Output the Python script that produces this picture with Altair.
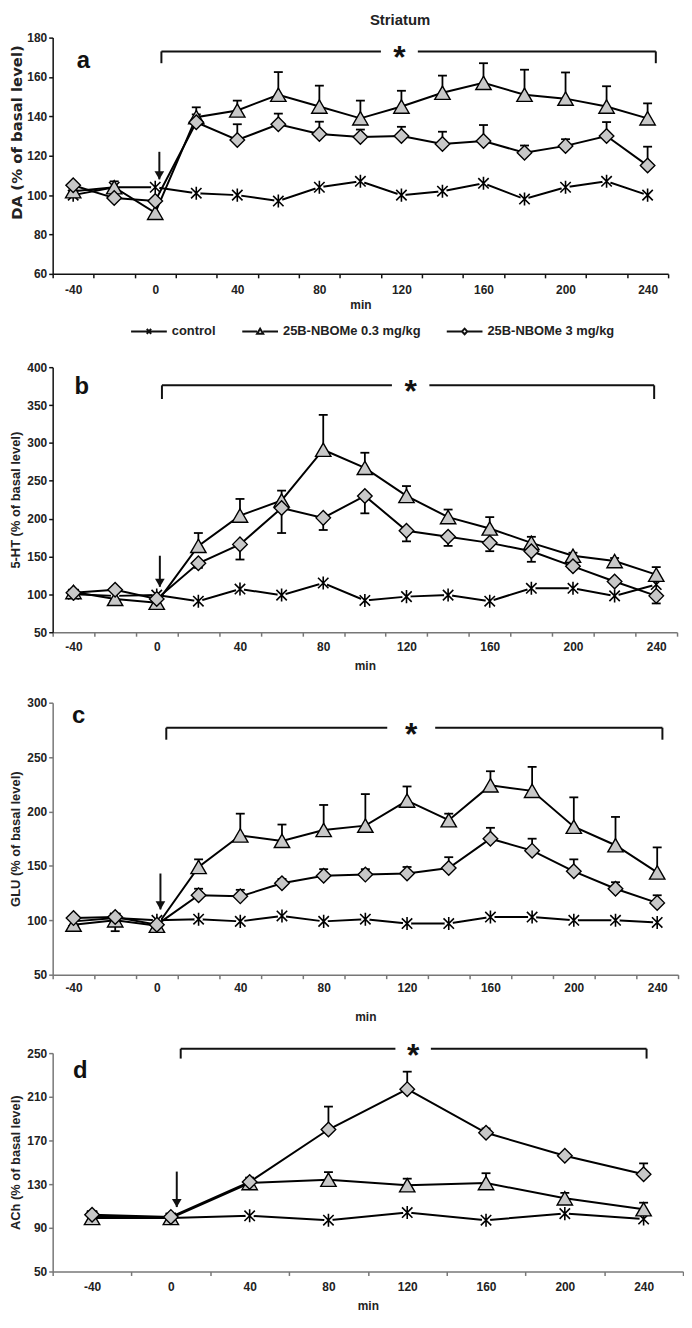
import altair as alt
import pandas as pd

FONT = "Liberation Sans"
GRAY_FILL = "#c8c8c8"

SERIES = ["control", "25B-NBOMe 0.3 mg/kg", "25B-NBOMe 3 mg/kg"]

X15 = [-40, -20, 0, 20, 40, 60, 80, 100, 120, 140, 160, 180, 200, 220, 240]
X8 = [-40, 0, 40, 80, 120, 160, 200, 240]
TICKS15 = [-50, -30, -10, 10, 30, 50, 70, 90, 110, 130, 150, 170, 190, 210, 230, 250]
TICKS8 = [-60, -20, 20, 60, 100, 140, 180, 220, 260]
XLABELS = [-40, 0, 40, 80, 120, 160, 200, 240]

# ---- panel a : DA ----
da_ctrl = [100, 104, 104, 101, 100, 97, 104, 107, 100, 102, 106, 98, 104, 107, 100]
da_tri = [102, 104, 91, 139.6, 143, 151, 145, 139, 145, 152, 157, 151, 149, 145, 139]
da_tri_err = [0, 3, 0, 5, 5, 11.5, 10.6, 9, 8, 8.7, 10, 12.7, 13.3, 10.3, 7.6]
da_dia = [105, 98.5, 97, 137, 128, 136, 131, 129.5, 130, 126, 127.5, 121.5, 125, 130, 115]
da_dia_err = [0, 0, 0, 4, 8, 5.4, 6.3, 3.8, 4.7, 6.2, 8.1, 3.7, 3.4, 7.1, 9.6]

# ---- panel b : 5-HT ----
ht_ctrl = [100, 98, 99, 91, 107, 99, 115, 92, 97, 99, 91, 108, 108, 98, 113]
ht_tri = [103, 94, 89, 164, 204, 224, 291, 267, 230, 202, 187, 168, 151, 144, 126]
ht_tri_err = [0, 0, 0, 17, 22, 13, 46, 20, 13, 10, 15, 8, 4, 4, 10]
ht_dia = [102, 106, 94, 141, 166, 214, 201, 230, 184, 176, 168, 157, 137, 117, 98]
ht_dia_err = [0, 0, 0, -6, -20, -33, -16, -23, -14, -12, -11, -14, -4, 0, -10]

# ---- panel c : GLU ----
glu_ctrl = [99, 102, 100, 101, 99, 104, 99, 101, 97, 97, 103, 103, 100, 100, 98]
glu_tri = [96, 100, 95, 149, 178, 173, 183, 187, 210, 192, 224, 219, 186, 169, 144]
glu_tri_err = [0, -10, 0, 7, 20, 15, 23, 29, 13, 6, 13, 22, 27, 26, 23]
glu_dia = [102, 103, 96, 123, 122, 134, 141, 142, 143, 148, 175, 164, 145, 129, 116]
glu_dia_err = [0, 0, 0, 6, 6, 4, 6, 5, 6, 10, 10, 11, 11, 6, 7]

# ---- panel d : ACh ----
ach_ctrl = [101, 99, 101, 97, 104, 97, 103, 98]
ach_tri = [99, 99, 131, 134, 129, 131, 117, 107]
ach_tri_err = [0, 0, 3, 7, 6, 9, 5, 6]
ach_dia = [102, 100, 132, 180, 217, 177, 156, 139]
ach_dia_err = [3, 0, 4, 21, 16, 4, 2, 10]

STAR_PATH = "M-1,-1L1,1M-1,1L1,-1M0,-1.25L0,1.25"
LEG_PATHS = [
    "M-1,0L1,0M-0.12,-0.14L0.12,0.14M-0.12,0.14L0.12,-0.14",
    "M-1,0L-0.17,0M0.17,0L1,0M0,-0.15L0.17,0.13L-0.17,0.13Z",
    "M-1,0L-0.17,0M0.17,0L1,0M0,-0.16L0.15,0L0,0.16L-0.15,0Z",
]


def make_panel(xs, ctrl, tri, tri_err, dia, dia_err, cfg):
    rows = []
    zeros = [0] * len(xs)
    for s, ys, es in ((SERIES[0], ctrl, zeros), (SERIES[1], tri, tri_err), (SERIES[2], dia, dia_err)):
        for x, y, e in zip(xs, ys, es):
            rows.append({"x": x, "y": y, "top": y + e, "err": e, "series": s})
    df = pd.DataFrame(rows)

    xscale = alt.Scale(domain=cfg["xdom"], nice=False, zero=False)
    yscale = alt.Scale(domain=cfg["ydom"], nice=False, zero=False)
    xaxis = alt.Axis(
        values=cfg["xticks"] + XLABELS,
        labelExpr="datum.value % 40 === 0 ? '' + datum.value : ''",
        tickOpacity={"condition": {"test": "datum.value % 40 === 0", "value": 0}, "value": 1},
        labelOverlap=False, labelFlush=False, grid=False,
        tickSize=4, tickWidth=1.5, domainWidth=1.5,
        domainColor=cfg["xcolor"], tickColor=cfg["xcolor"],
        labelFont=FONT, labelFontSize=12, labelFontWeight="bold", labelColor="#222",
        labelPadding=cfg["lpad"],
        title="min", titleFont=FONT, titleFontSize=12, titleFontWeight="bold", titleColor="#222",
        titlePadding=cfg["tpad"],
    )
    yaxis_kw = dict(
        values=cfg["yticks"], grid=False, tickSize=4, tickWidth=1.5, domainWidth=1.5,
        domainColor=cfg["ycolor"], tickColor=cfg["ycolor"],
        labelFont=FONT, labelFontSize=12, labelFontWeight="bold", labelColor="#222",
        labelPadding=2, minExtent=cfg["ext"], maxExtent=cfg["ext"],
        title=cfg["ytitle"], titleFont=cfg["tfont"], titleFontSize=cfg["tsize"],
        titleFontWeight="bold", titleColor="#222", titlePadding=1,
    )
    if "titleY" in cfg:
        yaxis_kw["titleY"] = cfg["titleY"]
    yaxis = alt.Axis(**yaxis_kw)

    def X(field="x"):
        return alt.X(f"{field}:Q", scale=xscale, axis=xaxis)

    def Y(field="y"):
        return alt.Y(f"{field}:Q", scale=yscale, axis=yaxis)

    base = alt.Chart(df)
    lines = base.mark_line(color="black", strokeWidth=2).encode(
        x=X(), y=Y(), detail="series:N", order="x:Q")
    errs = base.transform_filter("datum.err != 0")
    err_lines = errs.mark_rule(color="black", strokeWidth=1.8).encode(
        x=X(), y=Y("y"), y2="top:Q")
    err_caps = errs.mark_rule(color="black", strokeWidth=1.8, xOffset=-4.5, x2Offset=4.5).encode(
        x=X(), x2="x:Q", y=Y("top"))

    c_bg = base.transform_filter(alt.datum.series == SERIES[0]).mark_point(
        shape="circle", filled=True, color="white", size=70, opacity=1).encode(x=X(), y=Y())
    c_pt = base.transform_filter(alt.datum.series == SERIES[0]).mark_point(
        shape=STAR_PATH, filled=False, color="black", strokeWidth=1.6, size=110, opacity=1).encode(x=X(), y=Y())
    t_pt = base.transform_filter(alt.datum.series == SERIES[1]).mark_point(
        shape="triangle-up", filled=True, color=GRAY_FILL, fill=GRAY_FILL, stroke="black",
        strokeWidth=1.4, size=240, opacity=1).encode(x=X(), y=Y())
    d_pt = base.transform_filter(alt.datum.series == SERIES[2]).mark_point(
        shape="diamond", filled=True, color=GRAY_FILL, fill=GRAY_FILL, stroke="black",
        strokeWidth=1.4, size=215, opacity=1).encode(x=X(), y=Y())

    b = cfg["bracket"]
    br_df = pd.DataFrame([
        {"x": b["left"], "x2": b["star"] - b["gap"], "y": b["y"], "y2": b["y"]},
        {"x": b["star"] + b["gap"], "x2": b["right"], "y": b["y"], "y2": b["y"]},
        {"x": b["left"], "x2": b["left"], "y": b["y"], "y2": b["drop"]},
        {"x": b["right"], "x2": b["right"], "y": b["y"], "y2": b["drop"]},
    ])
    bracket = alt.Chart(br_df).mark_rule(color="#111", strokeWidth=2).encode(
        x=X(), x2="x2:Q", y=Y(), y2="y2:Q")
    star = alt.Chart(pd.DataFrame([{"x": b["star"], "y": b["y"]}])).mark_text(
        text="*", font=FONT, fontSize=32, fontWeight="bold", color="#111",
        baseline="alphabetic", dy=17).encode(x=X(), y=Y())

    a = cfg["arrow"]
    ar_df = pd.DataFrame([{"x": a["x"], "y": a["top"], "y2": a["tip"]}])
    arrow_line = alt.Chart(ar_df).mark_rule(color="#111", strokeWidth=2).encode(
        x=X(), y=Y(), y2="y2:Q")
    arrow_head = alt.Chart(ar_df).mark_point(
        shape="triangle-down", filled=True, color="#111", size=95, opacity=1, yOffset=-4).encode(
        x=X(), y=Y("y2"))

    l = cfg["letter"]
    letter = alt.Chart(pd.DataFrame([{"x": l["x"], "y": l["y"], "t": l["t"]}])).mark_text(
        font=FONT, fontSize=24, fontWeight="bold", color="#111", baseline="middle", align="center"
    ).encode(x=X(), y=Y(), text="t:N")

    layers = [lines, err_lines, err_caps, c_bg, c_pt, t_pt, d_pt, bracket, star, arrow_line, arrow_head, letter]

    if cfg.get("legend"):
        leg = base.mark_point(opacity=0).encode(
            x=X(), y=Y(),
            shape=alt.Shape(
                "series:N",
                scale=alt.Scale(domain=SERIES, range=LEG_PATHS),
                legend=alt.Legend(
                    orient="none", legendX=cfg["legend"][0], legendY=cfg["legend"][1],
                    direction="horizontal", columns=3, title=None,
                    symbolSize=1296, symbolFillColor="white", symbolStrokeColor="#111",
                    symbolStrokeWidth=2, symbolOpacity=1,
                    labelFont=FONT, labelFontSize=13, labelFontWeight="bold", labelColor="#222",
                    labelOffset=4, columnPadding=22, labelLimit=300,
                ),
            ),
        )
        layers.append(leg)

    ch = alt.layer(*layers).properties(width=cfg["w"], height=cfg["h"])
    if cfg.get("title"):
        ch = ch.properties(title=alt.TitleParams(
            cfg["title"], font=FONT, fontSize=15, fontWeight="bold", color="#222",
            anchor="middle", dx=40, offset=4))
    return ch


pa = make_panel(X15, da_ctrl, da_tri, da_tri_err, da_dia, da_dia_err, {
    "xdom": [-50, 250], "xticks": TICKS15, "ydom": [60, 180], "yticks": [60, 80, 100, 120, 140, 160, 180],
    "ytitle": "DA (% of basal level)", "tfont": "DejaVu Sans", "tsize": 15, "titleY": 95,
    "xcolor": "#111", "ycolor": "#111",
    "lpad": 7, "tpad": 4, "ext": 27, "w": 620, "h": 238,
    "bracket": {"left": 3, "right": 244, "y": 173, "drop": 167, "star": 119, "gap": 9},
    "arrow": {"x": 2, "top": 122, "tip": 108},
    "letter": {"x": -35, "y": 168, "t": "a"},
    "legend": [78, 277], "title": "Striatum",
})
pb = make_panel(X15, ht_ctrl, ht_tri, ht_tri_err, ht_dia, ht_dia_err, {
    "xdom": [-50, 250], "xticks": TICKS15, "ydom": [50, 400], "yticks": [50, 100, 150, 200, 250, 300, 350, 400],
    "ytitle": "5-HT (% of basal level)", "tfont": FONT, "tsize": 13,
    "xcolor": "#777", "ycolor": "#111",
    "lpad": 5, "tpad": 9, "ext": 29, "w": 629, "h": 267,
    "bracket": {"left": 2.5, "right": 239, "y": 376, "drop": 358, "star": 122, "gap": 9},
    "arrow": {"x": 1.5, "top": 151, "tip": 110},
    "letter": {"x": -36, "y": 374, "t": "b"},
})
pc = make_panel(X15, glu_ctrl, glu_tri, glu_tri_err, glu_dia, glu_dia_err, {
    "xdom": [-50, 250], "xticks": TICKS15, "ydom": [50, 300], "yticks": [50, 100, 150, 200, 250, 300],
    "ytitle": "GLU (% of basal level)", "tfont": FONT, "tsize": 13,
    "xcolor": "#777", "ycolor": "#777",
    "lpad": 4, "tpad": 18, "ext": 29, "w": 630, "h": 274,
    "bracket": {"left": 4.5, "right": 242.5, "y": 277, "drop": 266, "star": 122, "gap": 11.5},
    "arrow": {"x": 1.7, "top": 143, "tip": 110},
    "letter": {"x": -37.5, "y": 288, "t": "c"},
})
pd_ = make_panel(X8, ach_ctrl, ach_tri, ach_tri_err, ach_dia, ach_dia_err, {
    "xdom": [-60, 260], "xticks": TICKS8, "ydom": [50, 250], "yticks": [50, 90, 130, 170, 210, 250],
    "ytitle": "ACh (% of basal level)", "tfont": FONT, "tsize": 13,
    "xcolor": "#777", "ycolor": "#777",
    "lpad": 6, "tpad": 8, "ext": 29, "w": 635, "h": 220,
    "bracket": {"left": 5, "right": 241.5, "y": 254, "drop": 245, "star": 123, "gap": 9},
    "arrow": {"x": 3, "top": 141.5, "tip": 109},
    "letter": {"x": -46, "y": 234, "t": "d"},
})

lower = alt.vconcat(pb, alt.vconcat(pc, pd_, spacing=17), spacing=25)
chart = alt.vconcat(pa, lower, spacing=51).properties(
    padding={"left": 2, "top": 0, "right": 0, "bottom": 0},
    background="white",
).configure_view(strokeWidth=0)

chart.save("out.html", embed_options={"renderer": "svg", "actions": False})
